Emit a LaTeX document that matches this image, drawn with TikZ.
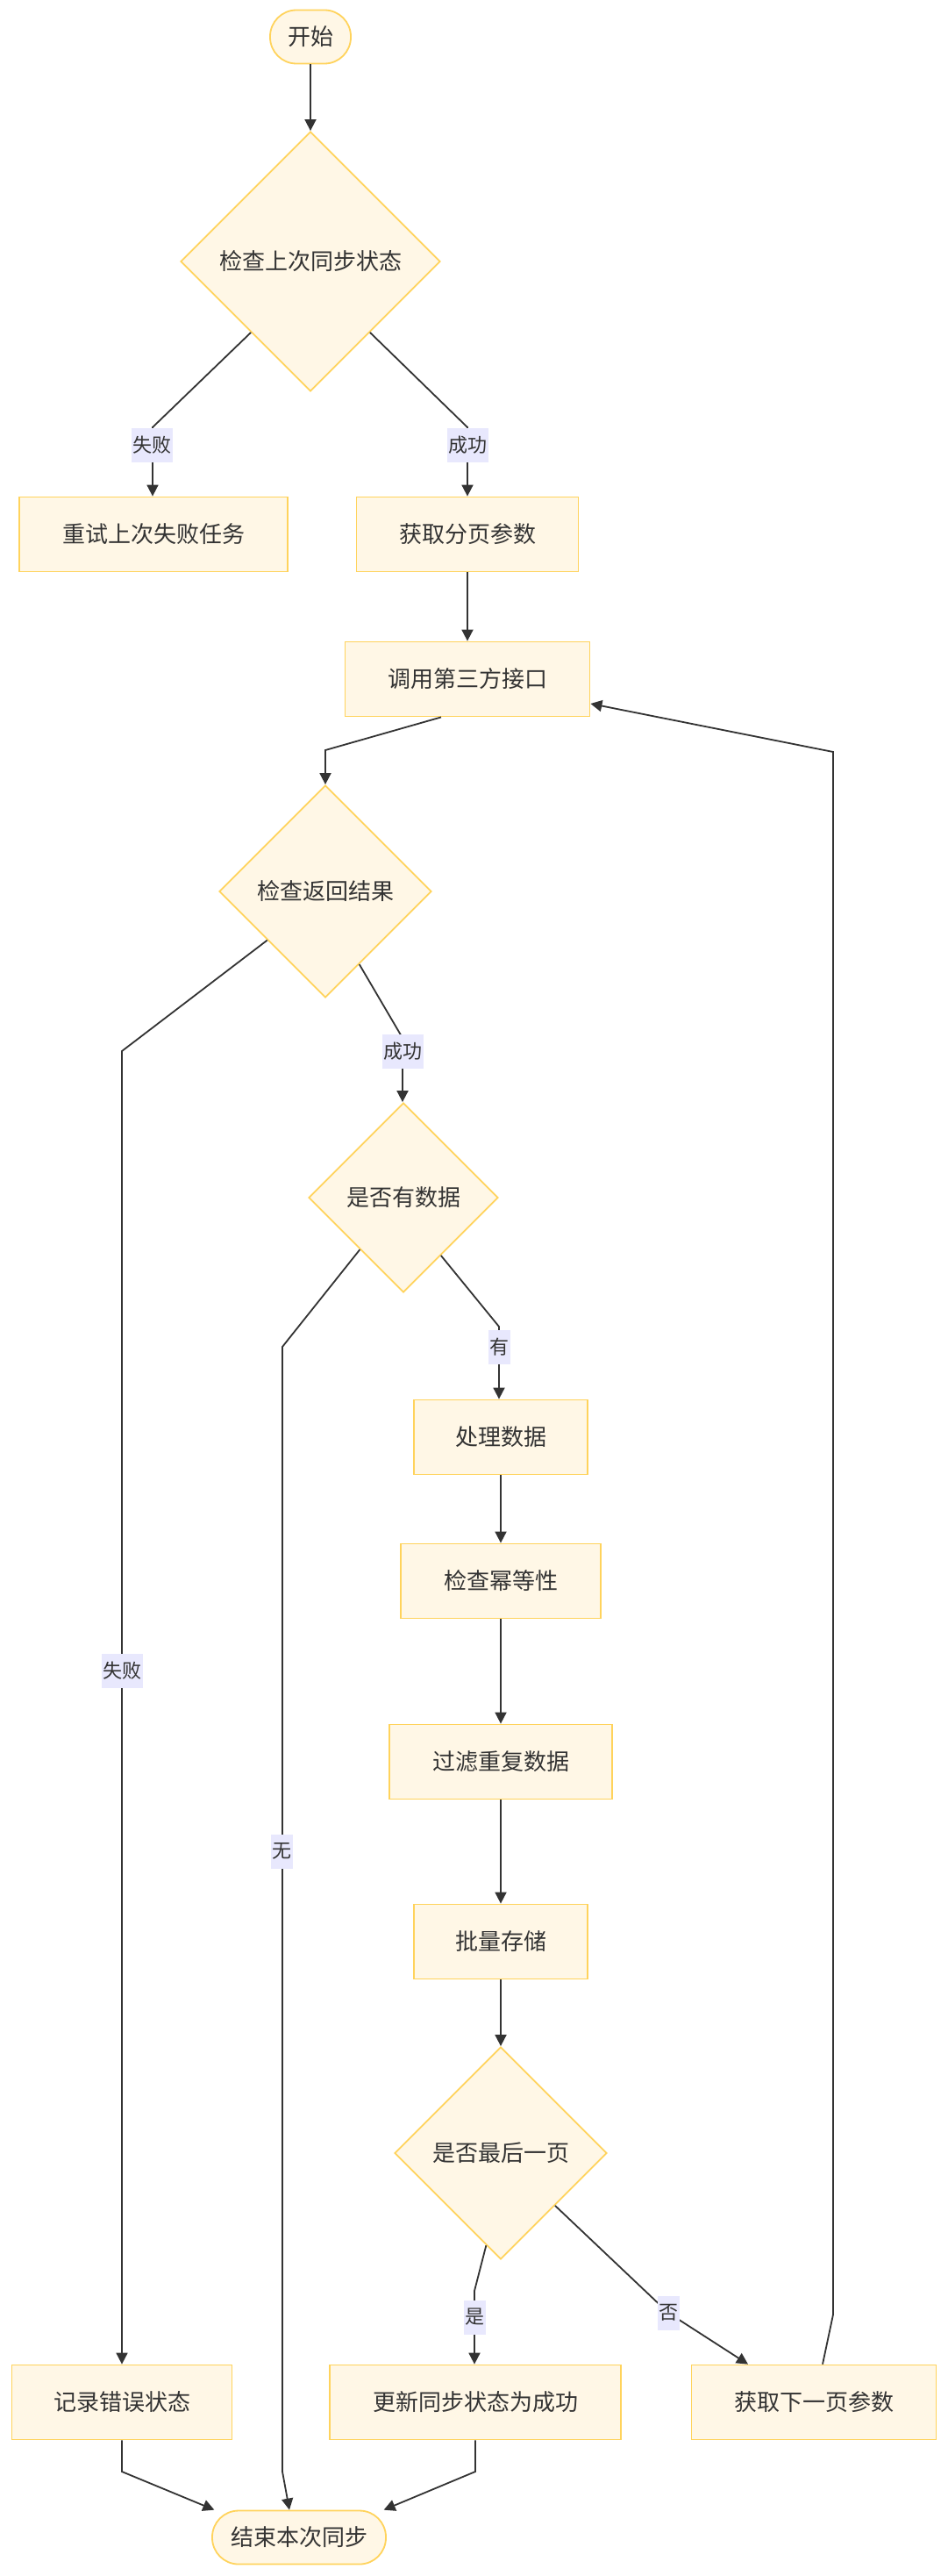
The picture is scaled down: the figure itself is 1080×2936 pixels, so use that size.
\documentclass[tikz,border=0pt]{standalone}
\usepackage{fontspec}
\setmainfont{Noto Sans CJK SC}
\usetikzlibrary{shapes.geometric,arrows.meta}

\definecolor{boxfill}{HTML}{FFF7E6}
\definecolor{boxline}{HTML}{FFD35C}
\definecolor{lblfill}{HTML}{E8E8FD}
\definecolor{ink}{HTML}{333333}

\begin{document}
\begin{tikzpicture}[x=1pt,y=-1pt]

\useasboundingbox (0,0) rectangle (1080,2936);

\tikzstyle{box}=[draw=boxline,fill=boxfill,line width=1.8pt,text=ink,font=\fontsize{26}{30}\selectfont,inner sep=0pt,minimum height=85pt]
\tikzstyle{term}=[box,rounded corners=30pt,minimum height=61pt]
\tikzstyle{decision}=[box,diamond,aspect=1]
\tikzstyle{lbl}=[fill=lblfill,text=ink,font=\fontsize{22}{26}\selectfont,inner xsep=1.5pt,inner ysep=0pt,minimum height=39pt]
\tikzstyle{arr}=[draw=ink,line width=1.8pt,-{Triangle[length=13pt,width=13pt]}]

\node (start) [term,minimum width=92pt] at (354,42) {开始};
\node (chk1) [decision,minimum size=296pt] at (354,298) {检查上次同步状态};
\node (retry) [box,minimum width=306pt] at (175,609) {重试上次失败任务};
\node (page) [box,minimum width=253pt] at (533,609) {获取分页参数};
\node (call) [box,minimum width=279pt] at (533,774) {调用第三方接口};
\node (chk2) [decision,minimum size=242pt] at (371,1016) {检查返回结果};
\node (hasdata) [decision,minimum size=216pt] at (460,1365) {是否有数据};
\node (proc) [box,minimum width=198pt] at (571,1638) {处理数据};
\node (idem) [box,minimum width=228pt] at (571,1802) {检查幂等性};
\node (filt) [box,minimum width=254pt] at (571,2008) {过滤重复数据};
\node (store) [box,minimum width=198pt] at (571,2213) {批量存储};
\node (last) [decision,minimum size=242pt] at (571,2454) {是否最后一页};
\node (log) [box,minimum width=251pt] at (139,2738) {记录错误状态};
\node (upd) [box,minimum width=332pt] at (542,2738) {更新同步状态为成功};
\node (next) [box,minimum width=279pt] at (928,2738) {获取下一页参数};
\node (end) [term,minimum width=198pt] at (341,2892) {结束本次同步};

% bends
\coordinate (b1) at (174,487);
\coordinate (b2) at (533,487);
\coordinate (b3) at (371,855);
\coordinate (b4) at (139,1198);
\coordinate (b5) at (459,1183);
\coordinate (b6) at (322,1535);
\coordinate (b7) at (569,1512);
\coordinate (b8) at (541,2611);
\coordinate (b9) at (139,2817);
\coordinate (b10) at (322,2817);
\coordinate (b11) at (542,2817);
\coordinate (b12) at (950,2638);
\coordinate (b13) at (950,857);
\coordinate (b14) at (762,2636);

\draw[arr] (start) -- (chk1);
\draw[arr] (chk1.230) -- (b1) -- (b1 |- retry.north);
\draw[arr] (chk1.-50) -- (b2) -- (b2 |- page.north);
\draw[arr] (page) -- (call);
\draw[arr] ([xshift=-30pt]call.south) -- (b3) -- (chk2.north);
\draw[arr] (chk2.220) -- (b4) -- (b4 |- log.north);
\draw[arr] (chk2.-65) -- (b5) -- (b5 |- hasdata.north);
\draw[arr] (hasdata.230) -- (b6) -- (b10) -- ([xshift=-11pt]end.north);
\draw[arr] (hasdata.-57) -- (b7) -- (b7 |- proc.north);
\draw[arr] (proc) -- (idem);
\draw[arr] (idem) -- (filt);
\draw[arr] (filt) -- (store);
\draw[arr] (store) -- (last);
\draw[arr] (last.261) -- (b8) -- (b8 |- upd.north);
\draw[arr] (last.-44) -- (b14) -- ([xshift=-75pt]next.north);
\draw[arr] ([xshift=10pt]next.north) -- (b12) -- (b13) -- ([yshift=-28pt]call.east);
\draw[arr] (log) -- (b9) -- (end.162);
\draw[arr] (upd) -- (b11) -- (end.18);

\node (l1) [lbl] at (173,507) {失败};
\node (l2) [lbl] at (533,507) {成功};
\node (l3) [lbl] at (139,1904) {失败};
\node (l4) [lbl] at (459,1198) {成功};
\node (l5) [lbl] at (321,2110) {无};
\node (l6) [lbl] at (569,1535) {有};
\node (l7) [lbl] at (541,2641) {是};
\node (l8) [lbl] at (762,2636) {否};

\end{tikzpicture}
\end{document}
